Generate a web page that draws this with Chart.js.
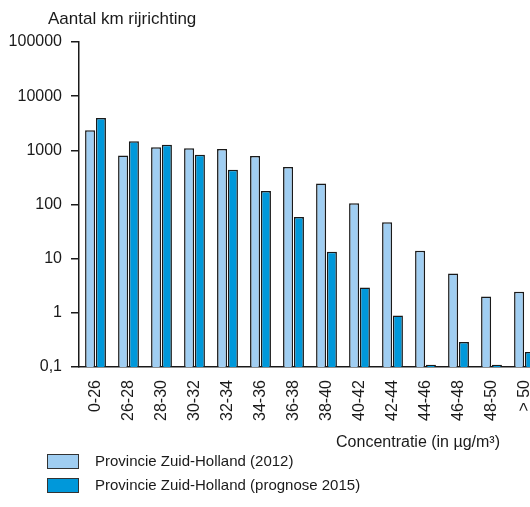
<!DOCTYPE html>
<html>
<head>
<meta charset="utf-8">
<script src="https://cdn.jsdelivr.net/npm/chart.js@4.4.1/dist/chart.umd.min.js"></script>
<style>
  html, body { margin: 0; padding: 0; background: #fff; overflow: hidden; }
  #wrap { width: 530px; height: 507px; overflow: hidden; }
  canvas { display: block; }
</style>
</head>
<body>
<div id="wrap"><canvas id="chart" width="541" height="507"></canvas></div>
<script>
// Aantal km rijrichting per concentratieklasse (log schaal)
const categories = ['0-26', '26-28', '28-30', '30-32', '32-34', '34-36', '36-38', '38-40', '40-42', '42-44', '44-46', '46-48', '48-50', '> 50'];
const values2012 = [2350, 800, 1140, 1090, 1060, 790, 490, 245, 105, 47, 14, 5.3, 2.0, 2.45];
const values2015 = [3950, 1470, 1270, 830, 440, 178, 59, 13.4, 2.95, 0.89, 0.11, 0.29, 0.11, 0.19];
const seriesLabels = ['Provincie Zuid-Holland (2012)', 'Provincie Zuid-Holland (prognose 2015)'];
const yTickValues = [0.1, 1, 10, 100, 1000, 10000, 100000];
const yTickLabels = ['0,1', '1', '10', '100', '1000', '10000', '100000'];
const yTitle = 'Aantal km rijrichting';
const xTitle = 'Concentratie (in \u00b5g/m\u00b3)';

const LIGHT = '#a0cef2';
const DARK = '#0098da';
const INK = '#1a1a1a';
const FONT = '"Liberation Sans", Arial, sans-serif';

// titles and legend drawn under the chart
const extraText = {
  id: 'extraText',
  afterDraw(chart) {
    const ctx = chart.ctx;
    ctx.save();
    ctx.fillStyle = INK;
    ctx.textBaseline = 'alphabetic';
    ctx.font = '17px ' + FONT;
    ctx.textAlign = 'left';
    ctx.fillText(yTitle, 48, 24);
    ctx.font = '16px ' + FONT;
    ctx.textAlign = 'right';
    ctx.fillText(xTitle, 500, 447);

    ctx.textAlign = 'left';
    ctx.font = '15px ' + FONT;
    chart.data.datasets.forEach((ds, i) => {
      const top = 454 + i * 24;
      ctx.fillStyle = ds.backgroundColor;
      ctx.fillRect(47, top, 32, 15);
      ctx.strokeStyle = '#333';
      ctx.lineWidth = 1;
      ctx.strokeRect(47.5, top + 0.5, 31, 14);
      ctx.fillStyle = INK;
      ctx.fillText(ds.label, 95, top + 12);
    });
    ctx.restore();
  }
};

new Chart(document.getElementById('chart'), {
  type: 'bar',
  data: {
    labels: categories,
    datasets: [
      {
        label: seriesLabels[0],
        data: values2012,
        backgroundColor: LIGHT,
        borderColor: INK,
        borderWidth: 1.5,
        barPercentage: 0.93,
        categoryPercentage: 0.655,
      },
      {
        label: seriesLabels[1],
        data: values2015,
        backgroundColor: DARK,
        borderColor: INK,
        borderWidth: 1.5,
        barPercentage: 0.93,
        categoryPercentage: 0.655,
      },
    ],
  },
  options: {
    responsive: false,
    animation: false,
    layout: { padding: { top: 42, left: 0, right: 0, bottom: 0 } },
    plugins: {
      legend: { display: false },
      tooltip: { enabled: false },
    },
    scales: {
      x: {
        type: 'category',
        offset: true,
        grid: { display: false, drawTicks: false },
        border: { display: true, color: INK, width: 1.5 },
        ticks: {
          color: INK,
          font: { family: FONT, size: 16 },
          minRotation: 90,
          maxRotation: 90,
          autoSkip: false,
          padding: 13,
        },
        afterFit: (scale) => {
          scale.height = 140;
          scale.paddingLeft = 0;
          scale.paddingRight = 0;
        },
      },
      y: {
        type: 'logarithmic',
        min: 0.1,
        max: 100000,
        grid: { drawOnChartArea: false, drawTicks: true, tickLength: 8, color: INK, lineWidth: 1.5 },
        border: { display: true, color: INK, width: 1.5 },
        ticks: {
          color: INK,
          font: { family: FONT, size: 16 },
          padding: 9,
          callback: (value) => yTickLabels[yTickValues.indexOf(value)],
        },
        afterBuildTicks: (scale) => { scale.ticks = yTickValues.map((v) => ({ value: v })); },
        afterFit: (scale) => { scale.width = 79; },
      },
    },
  },
  plugins: [extraText],
});
</script>
</body>
</html>
